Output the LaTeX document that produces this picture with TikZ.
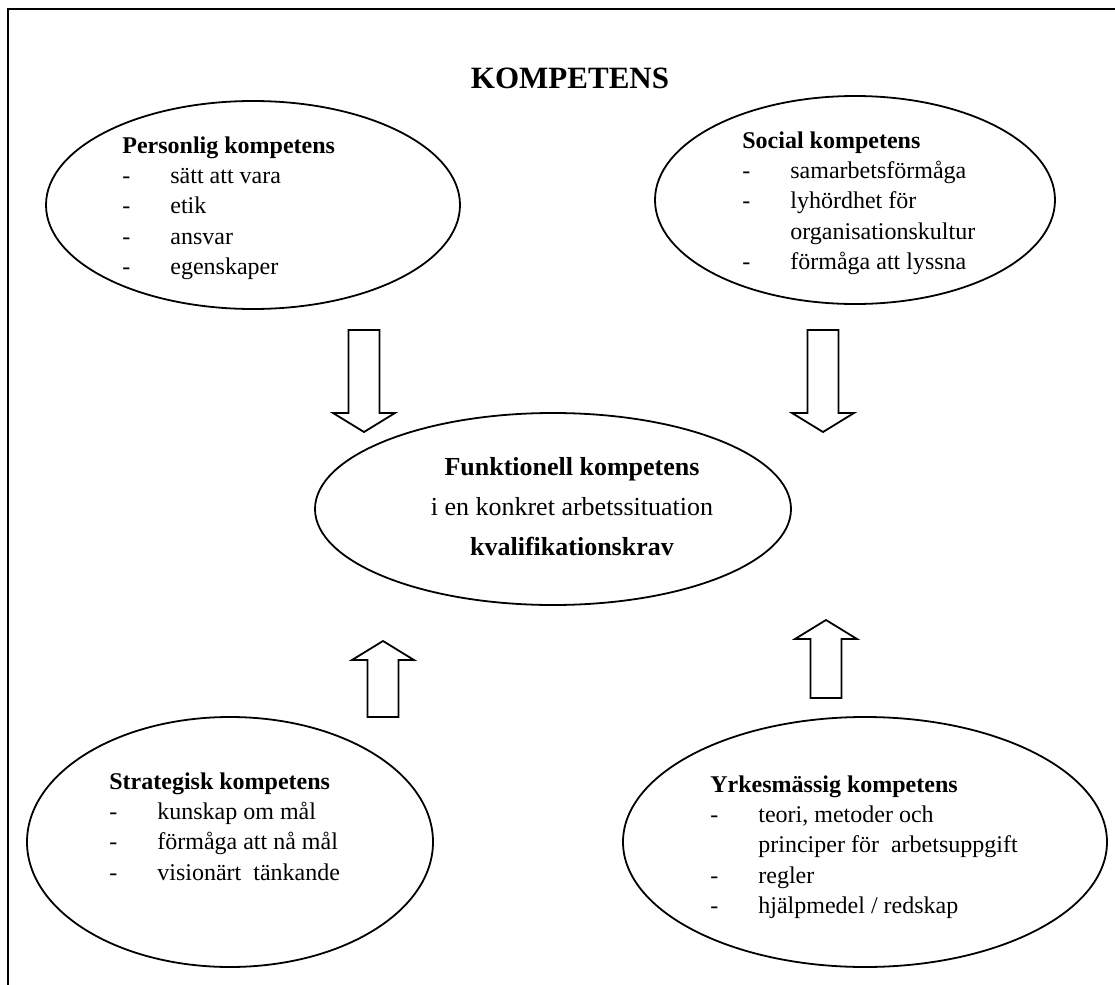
\documentclass[tikz,border=0pt]{standalone}
\usepackage{fontspec}
\setmainfont{Liberation Serif}
\usetikzlibrary{shapes.geometric}

\tikzset{
  komp/.style={draw, ellipse, line width=0.9pt, inner sep=0pt},
  lista/.style={anchor=base west, inner sep=0pt, font=\fontsize{12}{15.2}\selectfont},
  pil/.style={draw, line width=0.9pt, line join=miter}
}

\begin{document}
\begin{tikzpicture}[x=0.5pt, y=-0.5pt]
		\useasboundingbox (0,0) rectangle (1115,985);
		\draw [line width=1.3pt] (8,985) -- (8,9) -- (1115,9);
		
		\node (titel) at (570,78) {\fontsize{15.5}{18}\selectfont\bfseries KOMPETENS};
		
		\node (P) at (253,205) [komp, minimum width=207pt, minimum height=104pt] {};
		\node (S) at (855,200) [komp, minimum width=200pt, minimum height=104pt] {};
		\node (F) at (553,509) [komp, minimum width=238pt, minimum height=96pt] {};
		\node (St) at (230,842) [komp, minimum width=203pt, minimum height=125pt] {};
		\node (Y) at (865,842) [komp, minimum width=242pt, minimum height=125pt] {};
		
		\node (Ptext) at (122,153) [lista] {\begin{tabular}[t]{@{}p{24pt}@{}l@{}}
			\multicolumn{2}{@{}l@{}}{\textbf{Personlig kompetens}}\\
			- & sätt att vara\\
			- & etik\\
			- & ansvar\\
			- & egenskaper
		\end{tabular}};
		\node (Stext) at (742,148) [lista] {\begin{tabular}[t]{@{}p{24pt}@{}l@{}}
			\multicolumn{2}{@{}l@{}}{\textbf{Social kompetens}}\\
			- & samarbetsförmåga\\
			- & lyhördhet för\\
			  & organisationskultur\\
			- & förmåga att lyssna
		\end{tabular}};
		\node (Ftext) at (572,507) [align=center, font=\fontsize{13}{20}\selectfont] {\textbf{Funktionell kompetens}\\
			i en konkret arbetssituation\\
			\textbf{kvalifikationskrav}};
		\node (Sttext) at (109,789) [lista] {\begin{tabular}[t]{@{}p{24pt}@{}l@{}}
			\multicolumn{2}{@{}l@{}}{\textbf{Strategisk kompetens}}\\
			- & kunskap om mål\\
			- & förmåga att nå mål\\
			- & visionärt\ \ tänkande
		\end{tabular}};
		\node (Ytext) at (710,792) [lista] {\begin{tabular}[t]{@{}p{24pt}@{}l@{}}
			\multicolumn{2}{@{}l@{}}{\textbf{Yrkesmässig kompetens}}\\
			- & teori, metoder och\\
			  & principer för\ \ arbetsuppgift\\
			- & regler\\
			- & hjälpmedel / redskap
		\end{tabular}};
		
		% pilar ner mot mitten
		\foreach \x in {364,823}
			\draw [pil] ({\x-15.5},330) -- ({\x+15.5},330) -- ({\x+15.5},413) -- ({\x+31},413)
				-- (\x,432) -- ({\x-31},413) -- ({\x-15.5},413) -- cycle;
		% pilar upp mot mitten
		\foreach \x/\t/\b in {383/641/717, 826/620/698}
			\draw [pil] (\x,\t) -- ({\x+31},{\t+19}) -- ({\x+15.5},{\t+19}) -- ({\x+15.5},\b)
				-- ({\x-15.5},\b) -- ({\x-15.5},{\t+19}) -- ({\x-31},{\t+19}) -- cycle;
\end{tikzpicture}
\end{document}
